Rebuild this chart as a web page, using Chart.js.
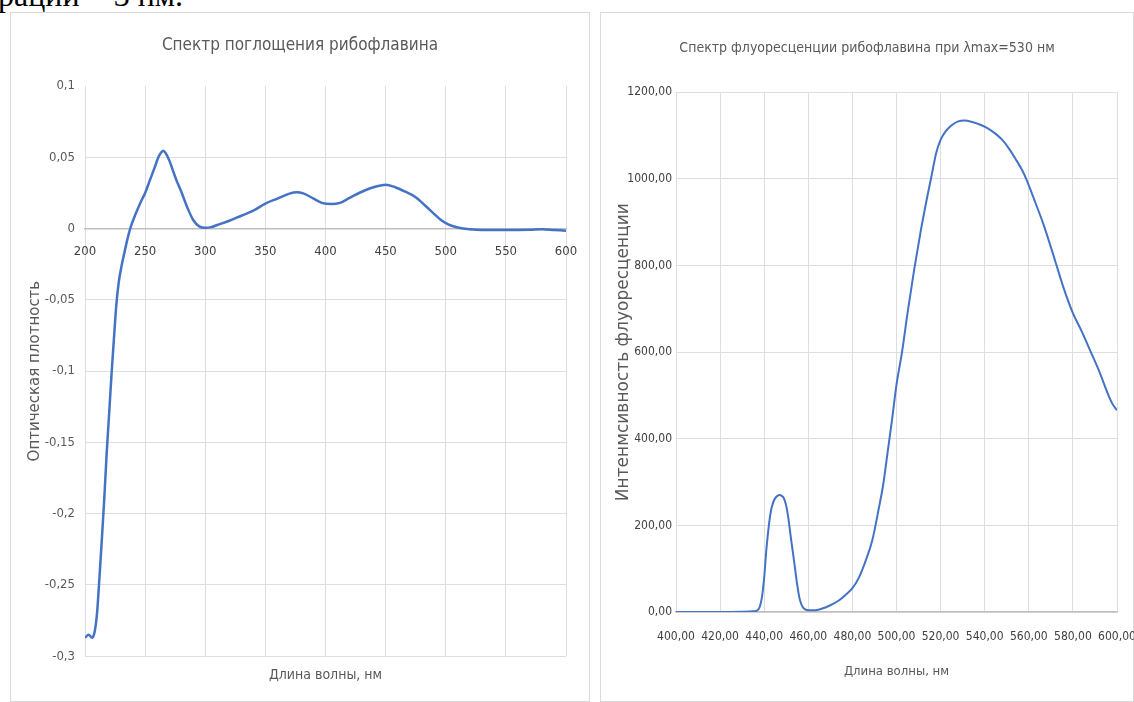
<!DOCTYPE html>
<html>
<head>
<meta charset="utf-8">
<title>Спектры рибофлавина</title>
<script src="https://cdn.jsdelivr.net/npm/chart.js@4.4.1/dist/chart.umd.min.js"></script>
<style>
  body { margin: 0; background: #fff; width: 1134px; height: 702px; overflow: hidden; position: relative; }
  .top-text { position: absolute; left: -2px; top: -21px; font: 32px/32px 'Liberation Serif', serif; color: #000; white-space: nowrap; }
  .box { position: absolute; top: 12px; height: 690px; background: #fff; box-shadow: inset 0 0 0 1px #d9d9d9; }
  #box1 { left: 10px; width: 580px; }
  #box2 { left: 600px; width: 534px; }
</style>
</head>
<body>
<div class="top-text">рации = 3 нм.</div>
<div class="box" id="box1"><canvas id="chart1"></canvas></div>
<div class="box" id="box2"><canvas id="chart2"></canvas></div>
<script>
// absorption spectrum (left chart)
var absWave = [200, 203, 206, 208, 210, 212, 214, 216, 218, 220, 222, 224, 226, 228, 230, 233, 236, 238,
  242, 246, 250, 254, 258, 261, 263, 265, 267, 270, 273, 276, 280, 285, 290, 295, 300, 305, 310,
  320, 330, 340, 350, 360, 370, 376, 382, 390, 397, 405, 412, 420, 432, 442, 450, 458, 466, 475,
  483, 490, 496, 502, 510, 520, 530, 550, 570, 580, 590, 600];
var absValue = [-0.287, -0.285, -0.287, -0.283, -0.270, -0.245, -0.218, -0.190, -0.158, -0.131, -0.103, -0.078, -0.054, -0.038, -0.028, -0.016, -0.005, 0.001,
  0.010, 0.018, 0.025, 0.034, 0.043, 0.050, 0.053, 0.0545, 0.053, 0.048, 0.041, 0.034, 0.026, 0.015, 0.006, 0.0015, 0.0005, 0.001, 0.0025,
  0.0055, 0.009, 0.0125, 0.0175, 0.021, 0.0245, 0.0255, 0.0245, 0.021, 0.018, 0.0172, 0.018, 0.0215, 0.0265, 0.0295, 0.0308, 0.029, 0.026, 0.022,
  0.016, 0.0105, 0.006, 0.003, 0.0008, -0.0005, -0.001, -0.001, -0.0008, -0.0005, -0.001, -0.0015];
var absXTicks = [200, 250, 300, 350, 400, 450, 500, 550, 600];
var absYTicks = [0.1, 0.05, 0, -0.05, -0.1, -0.15, -0.2, -0.25, -0.3];

// fluorescence spectrum (right chart)
var flWave = [400, 410, 420, 430, 435, 437, 438, 439, 440, 441, 442, 443, 444, 445, 446, 447, 448, 449,
  450, 451, 452, 453, 454, 455, 456, 457, 458, 460, 462, 465, 468, 471, 474, 477, 480, 483, 486, 489,
  492, 494, 496, 498, 500, 502.5, 505, 508, 511, 514, 516, 518, 520, 522, 525, 528, 531, 534, 537,
  541, 545, 548, 551, 554, 557, 559, 563, 567, 572, 576, 580, 584, 588, 592, 596, 598, 600];
var flValue = [0, 0, 0, 0.5, 1.5, 4, 12, 35, 80, 145, 195, 232, 252, 263, 268, 270, 268, 262,
  245, 215, 175, 138, 100, 62, 32, 16, 8, 4, 4, 6, 11, 18, 27, 40, 55, 80, 118, 165,
  240, 295, 370, 445, 525, 600, 690, 790, 880, 960, 1010, 1060, 1090, 1108, 1124, 1133, 1135, 1132, 1127,
  1118, 1104, 1090, 1070, 1046, 1020, 998, 945, 890, 810, 745, 690, 648, 602, 555, 502, 480, 466];
var flXTicks = [400, 420, 440, 460, 480, 500, 520, 540, 560, 580, 600];
var flYTicks = [0, 200, 400, 600, 800, 1000, 1200];

var narrow = "'DejaVu Sans Condensed', 'Liberation Sans Narrow', sans-serif";
var wide = "'DejaVu Sans', sans-serif";
var lineBlue = '#4472c4';
var gridGray = '#dedede';

function toPoints(xs, ys) {
  return xs.map(function(x, i) { return { x: x, y: ys[i] }; });
}
function fixedTicks(list) {
  return function(scale) {
    scale.ticks = list.map(function(v) { return { value: v }; });
  };
}
function comma(v) {
  return String(v).replace('.', ',');
}
function comma2(v) {
  return v.toFixed(2).replace('.', ',');
}

// chart 1
var ctx = document.getElementById('chart1').getContext('2d');
var chart1 = new Chart(ctx, {
  type: 'line',
  data: {
    datasets: [{
      label: 'Оптическая плотность',
      data: toPoints(absWave, absValue),
      borderColor: lineBlue,
      borderWidth: 2.5,
      pointRadius: 0,
      cubicInterpolationMode: 'monotone',
      fill: false
    }]
  },
  options: {
    maintainAspectRatio: false,
    animation: false,
    layout: { padding: 0 },
    plugins: {
      legend: { display: false },
      tooltip: { enabled: false },
      title: {
        display: true,
        text: 'Спектр поглощения рибофлавина',
        color: '#595959',
        font: { family: narrow, size: 17, weight: 'normal' },
        padding: { top: 23, bottom: 30.6 }
      }
    },
    scales: {
      x: {
        type: 'linear',
        position: { y: 0 },
        min: 200,
        max: 600,
        afterBuildTicks: fixedTicks(absXTicks),
        afterFit: function(scale) { scale.paddingRight = 24; scale.paddingLeft = 0; },
        grid: { color: gridGray, drawTicks: false },
        border: { color: '#bfbfbf', width: 1.5 },
        ticks: { color: '#404040', font: { family: narrow, size: 13 }, padding: 15, maxRotation: 0, autoSkip: false }
      },
      x2: {
        type: 'linear',
        position: 'bottom',
        grid: { display: false, drawTicks: false },
        border: { display: false },
        ticks: { display: false },
        title: {
          display: true,
          text: 'Длина волны, нм',
          color: '#595959',
          font: { family: narrow, size: 14 },
          padding: { top: 11, bottom: 18 }
        }
      },
      y: {
        type: 'linear',
        position: 'left',
        min: -0.3,
        max: 0.1,
        afterBuildTicks: fixedTicks(absYTicks),
        afterFit: function(scale) { scale.width = 75; },
        grid: {
          drawTicks: false,
          color: function(c) { return c.tick && c.tick.value === 0.1 ? 'rgba(0,0,0,0)' : gridGray; }
        },
        border: { display: false },
        ticks: { color: '#595959', font: { family: narrow, size: 13 }, padding: 10, callback: comma },
        title: {
          display: true,
          text: 'Оптическая плотность',
          color: '#595959',
          font: { family: wide, size: 15 },
          padding: { top: 16, bottom: 0 }
        }
      }
    }
  }
});

// chart 2
var ctx = document.getElementById('chart2').getContext('2d');
var chart2 = new Chart(ctx, {
  type: 'line',
  data: {
    datasets: [{
      label: 'Интенмсивность флуоресценции',
      data: toPoints(flWave, flValue),
      borderColor: lineBlue,
      borderWidth: 2,
      pointRadius: 0,
      cubicInterpolationMode: 'monotone',
      fill: false
    }]
  },
  options: {
    maintainAspectRatio: false,
    animation: false,
    layout: { padding: 0 },
    plugins: {
      legend: { display: false },
      tooltip: { enabled: false },
      title: {
        display: true,
        text: 'Спектр флуоресценции рибофлавина при λmax=530 нм',
        color: '#595959',
        font: { family: narrow, size: 14, weight: 'normal' },
        padding: { top: 28, bottom: 35.5 }
      }
    },
    scales: {
      x: {
        type: 'linear',
        position: 'bottom',
        min: 400,
        max: 600,
        afterBuildTicks: fixedTicks(flXTicks),
        afterFit: function(scale) { scale.height = 90; scale.paddingRight = 17; scale.paddingLeft = 0; },
        grid: { color: gridGray, drawTicks: false },
        border: { color: '#bfbfbf', width: 1.5 },
        ticks: {
          color: '#404040',
          font: { family: narrow, size: 12 },
          padding: 18,
          maxRotation: 0,
          autoSkip: false,
          callback: comma2
        },
        title: {
          display: true,
          text: 'Длина волны, нм',
          color: '#595959',
          font: { family: narrow, size: 13 },
          padding: { top: 4, bottom: 23 }
        }
      },
      y: {
        type: 'linear',
        position: 'left',
        min: 0,
        max: 1200,
        afterBuildTicks: fixedTicks(flYTicks),
        afterFit: function(scale) { scale.width = 76; },
        grid: { color: gridGray, drawTicks: false },
        border: { display: false },
        ticks: {
          color: '#404040',
          font: { family: narrow, size: 12 },
          padding: 4,
          callback: comma2
        },
        title: {
          display: true,
          text: 'Интенмсивность флуоресценции',
          color: '#595959',
          font: { family: wide, size: 17 },
          padding: { top: 13, bottom: 0 }
        }
      }
    }
  }
});
</script>
</body>
</html>
